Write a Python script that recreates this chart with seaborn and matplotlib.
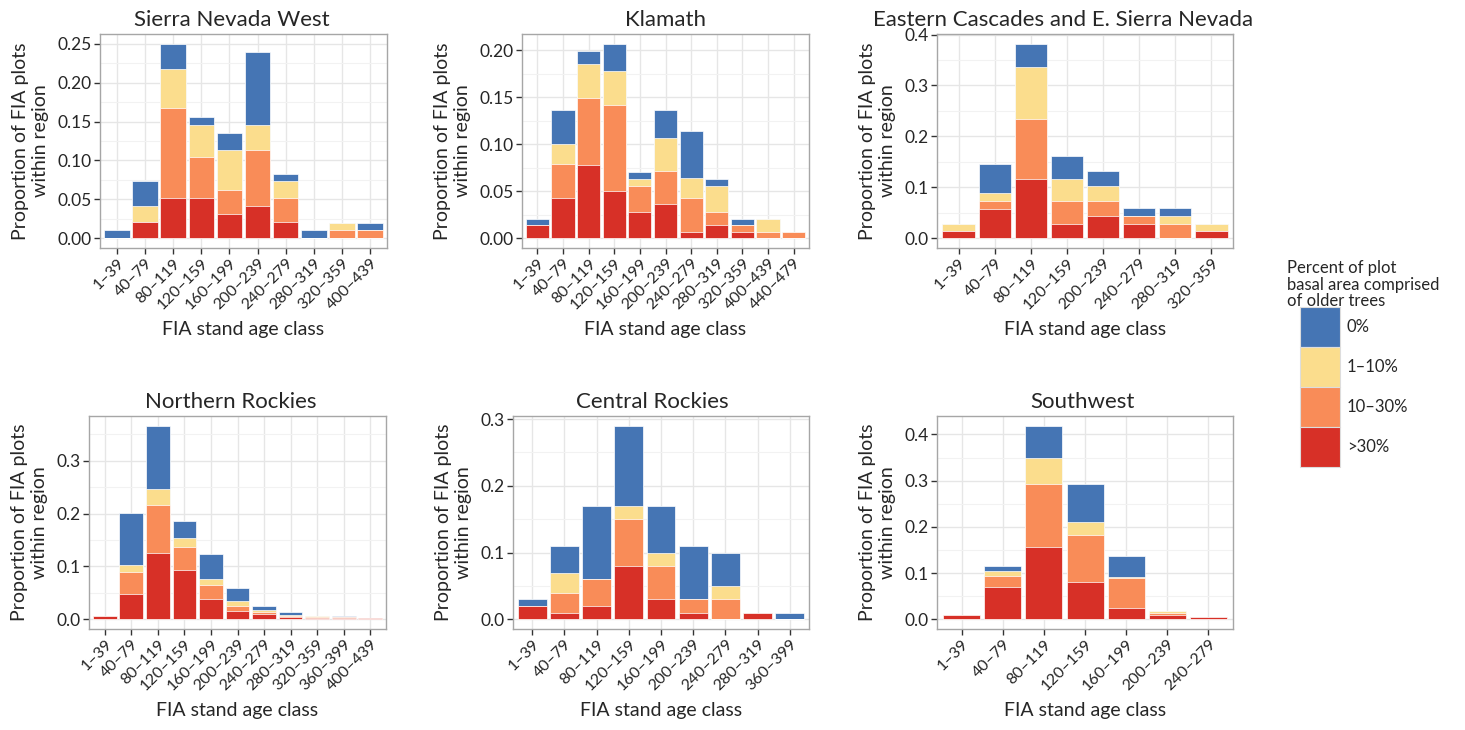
import pandas as pd
import seaborn as sns
import matplotlib.pyplot as plt
from matplotlib.patches import Patch
from matplotlib.ticker import MultipleLocator, FormatStrFormatter

# Classes (legend order) and colours
classes = ["0%", "1–10%", "10–30%", ">30%"]
colors = ["#4575B4", "#FBDD8D", "#F98C58", "#D73027"]

# Sierra Nevada West
snw_ages = ["1–39", "40–79", "80–119", "120–159", "160–199", "200–239", "240–279", "280–319", "320–359", "400–439"]
snw_gt30 = [0, .021, .052, .052, .031, .041, .021, 0, 0, 0]
snw_10_30 = [0, 0, .115, .052, .031, .073, .031, 0, .010, .010]
snw_1_10 = [0, .021, .051, .042, .052, .032, .021, 0, .010, 0]
snw_0 = [.010, .031, .032, .010, .021, .094, .010, .010, 0, .010]

# Klamath
kla_ages = ["1–39", "40–79", "80–119", "120–159", "160–199", "200–239", "240–279", "280–319", "320–359", "400–439", "440–479"]
kla_gt30 = [.014, .043, .078, .050, .028, .036, .007, .014, .007, 0, 0]
kla_10_30 = [0, .036, .071, .092, .028, .036, .036, .014, .007, .007, .007]
kla_1_10 = [0, .021, .036, .036, .007, .035, .021, .028, 0, .014, 0]
kla_0 = [.007, .036, .014, .029, .007, .029, .050, .007, .007, 0, 0]

# Eastern Cascades and E. Sierra Nevada
ecs_ages = ["1–39", "40–79", "80–119", "120–159", "200–239", "240–279", "280–319", "320–359"]
ecs_gt30 = [.0145, .058, .117, .029, .044, .029, 0, .0145]
ecs_10_30 = [0, .015, .118, .044, .029, .015, .029, 0]
ecs_1_10 = [.0145, .015, .102, .044, .029, 0, .015, .0145]
ecs_0 = [0, .058, .045, .045, .030, .015, .015, 0]

# Northern Rockies
nr_ages = ["1–39", "40–79", "80–119", "120–159", "160–199", "200–239", "240–279", "280–319", "320–359", "360–399", "400–439"]
nr_gt30 = [.006, .047, .125, .094, .038, .016, .010, .005, .003, .003, .002]
nr_10_30 = [0, .042, .091, .043, .027, .010, .004, .002, .002, .001, .001]
nr_1_10 = [0, .013, .031, .016, .012, .009, .003, .001, .001, 0, 0]
nr_0 = [0, .099, .119, .032, .047, .025, .009, .005, 0, .002, 0]

# Central Rockies
cr_ages = ["1–39", "40–79", "80–119", "120–159", "160–199", "200–239", "240–279", "280–319", "360–399"]
cr_gt30 = [.02, .01, .02, .08, .03, .01, 0, .01, 0]
cr_10_30 = [0, .03, .04, .07, .05, .02, .03, 0, 0]
cr_1_10 = [0, .03, 0, .02, .02, 0, .02, 0, 0]
cr_0 = [.01, .04, .11, .12, .07, .08, .05, 0, .01]

# Southwest
sw_ages = ["1–39", "40–79", "80–119", "120–159", "160–199", "200–239", "240–279"]
sw_gt30 = [.010, .070, .156, .080, .024, .009, .005]
sw_10_30 = [0, .024, .137, .102, .065, .005, 0]
sw_1_10 = [0, .010, .055, .029, .002, .005, 0]
sw_0 = [0, .012, .071, .081, .045, 0, 0]

# title, data, tick step, tick format, axes rect, title x (axes fraction)
panels = [
    ("Sierra Nevada West", snw_ages, snw_gt30, snw_10_30, snw_1_10, snw_0, 0.05, "%.2f",
     [100 / 1465, 1 - 248 / 730, 287 / 1465, 214 / 730], 0.46),
    ("Klamath", kla_ages, kla_gt30, kla_10_30, kla_1_10, kla_0, 0.05, "%.2f",
     [522 / 1465, 1 - 248 / 730, 287 / 1465, 214 / 730], 0.5),
    ("Eastern Cascades and E. Sierra Nevada", ecs_ages, ecs_gt30, ecs_10_30, ecs_1_10, ecs_0, 0.1, "%.1f",
     [937 / 1465, 1 - 248 / 730, 296 / 1465, 214 / 730], 0.425),
    ("Northern Rockies", nr_ages, nr_gt30, nr_10_30, nr_1_10, nr_0, 0.1, "%.1f",
     [89 / 1465, 1 - 629 / 730, 297 / 1465, 213 / 730], 0.476),
    ("Central Rockies", cr_ages, cr_gt30, cr_10_30, cr_1_10, cr_0, 0.1, "%.1f",
     [513 / 1465, 1 - 629 / 730, 296 / 1465, 213 / 730], 0.47),
    ("Southwest", sw_ages, sw_gt30, sw_10_30, sw_1_10, sw_0, 0.1, "%.1f",
     [937 / 1465, 1 - 629 / 730, 296 / 1465, 213 / 730], 0.49),
]

sns.set_style("white")
plt.rcParams["font.family"] = ["Lato", "DejaVu Sans"]

fig = plt.figure(figsize=(14.65, 7.3), dpi=100)

for title, ages, gt30, p10_30, p1_10, p0, step, fmt, pos, tx in panels:
    ax = fig.add_axes(pos)
    df = pd.DataFrame({"age": ages, ">30%": gt30, "10–30%": p10_30, "1–10%": p1_10, "0%": p0})
    # cumulative heights, drawn from the tallest layer down
    cum = df[[">30%", "10–30%", "1–10%", "0%"]].cumsum(axis=1)
    for cls, col in zip(classes, colors):
        sns.barplot(x=df["age"], y=cum[cls], order=ages, color=col, width=0.9,
                    edgecolor="white", linewidth=0.5, saturation=1, ax=ax, zorder=3)
    top = cum["0%"].max()
    n = len(ages)
    ax.set_xlim(-0.6, n - 0.4)
    ax.set_ylim(-0.05 * top, 1.05 * top)
    ax.yaxis.set_major_locator(MultipleLocator(step))
    ax.yaxis.set_minor_locator(MultipleLocator(step / 2))
    ax.yaxis.set_major_formatter(FormatStrFormatter(fmt))
    ax.grid(True, which="major", color="#E6E6E6", linewidth=1.0, zorder=0)
    ax.grid(True, which="minor", axis="y", color="#F2F2F2", linewidth=0.8, zorder=0)
    ax.set_axisbelow(True)
    for s in ax.spines.values():
        s.set_color("#A6A6A6")
        s.set_linewidth(1.0)
    ax.tick_params(axis="both", which="major", direction="out", length=4, width=1,
                   color="#333333", pad=2, left=True, bottom=True)
    ax.tick_params(axis="y", labelsize=12.5)
    ax.tick_params(axis="x", labelsize=11.5)
    ax.tick_params(which="minor", length=0)
    plt.setp(ax.get_xticklabels(), rotation=45, ha="right", rotation_mode="anchor")
    ax.set_title(title, fontsize=16, pad=6, x=tx)
    ax.set_xlabel("FIA stand age class", fontsize=14, labelpad=6)
    ax.set_ylabel("Proportion of FIA plots\nwithin region", fontsize=14, labelpad=6)

# legend: title as separate text, keys as a figure legend
fig.text(1287 / 1465, 1 - 260 / 730, "Percent of plot\nbasal area comprised\nof older trees",
         fontsize=12, va="top", ha="left", linespacing=1.05)
handles = [Patch(facecolor=c, edgecolor="#DDDDDD", linewidth=0.8) for c in colors]
fig.legend(handles, classes, loc="upper left", bbox_to_anchor=(1300 / 1465, 1 - 307 / 730),
           frameon=False, fontsize=12, handlelength=2.4, handleheight=3.32,
           labelspacing=0.0, handletextpad=0.4, borderaxespad=0, borderpad=0)

fig.savefig("out.png", dpi=100)
